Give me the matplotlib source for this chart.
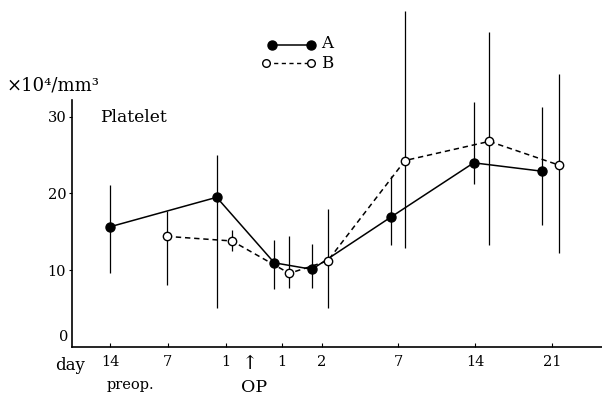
import matplotlib
matplotlib.use("Agg")
import matplotlib.pyplot as plt
from matplotlib.lines import Line2D
from matplotlib.transforms import blended_transform_factory

# x positions are on the chart's own (uneven) day scale
tick_pos = [11.0, 16.77, 22.57, 28.23, 32.17, 39.83, 47.5, 55.23]
tick_labels = ["14", "7", "1", "1", "2", "7", "14", "21"]
op_pos = 25.0

a_x = [11.0, 21.67, 27.43, 31.2, 39.07, 47.37, 54.23]
a_y = [15.65, 19.5, 10.95, 10.1, 16.9, 24.0, 22.9]
a_lo = [9.65, 5.0, 7.5, 7.65, 13.3, 21.3, 15.9]
a_hi = [21.1, 25.0, 13.9, 13.4, 22.3, 31.9, 31.3]

b_x = [16.67, 23.2, 28.93, 32.77, 40.5, 48.93, 55.9]
b_y = [14.4, 13.8, 9.57, 11.2, 24.3, 26.8, 23.7]
b_lo = [8.0, 12.5, 7.65, 5.0, 12.9, 13.3, 12.2]
b_hi = [17.7, 15.2, 14.5, 17.95, 43.8, 41.1, 35.6]

W, H = 602, 395
plt.rcParams["font.family"] = ["DejaVu Serif"]


def fx(px):
    return px / W


def fy(py):
    return 1 - py / H


fig = plt.figure(figsize=(W / 100, H / 100), dpi=100)
ax = fig.add_axes([fx(71.7), fy(346.7), fx(602 - 71.7), (346.7 - 100) / H])

a_err = [[y - lo for y, lo in zip(a_y, a_lo)], [hi - y for y, hi in zip(a_y, a_hi)]]
b_err = [[y - lo for y, lo in zip(b_y, b_lo)], [hi - y for y, hi in zip(b_y, b_hi)]]

eb = ax.errorbar(a_x, a_y, yerr=a_err, fmt="none", ecolor="black", elinewidth=0.9, capsize=0)
eb[2][0].set_clip_on(False)
eb = ax.errorbar(b_x, b_y, yerr=b_err, fmt="none", ecolor="black", elinewidth=0.9, capsize=0)
eb[2][0].set_clip_on(False)

ax.plot(a_x, a_y, color="black", lw=1.1, marker="o", ms=6.5, mfc="black", mec="black",
        zorder=3, clip_on=False)
ax.plot(b_x, b_y, color="black", lw=1.1, ls=(0, (3.5, 2.5)), marker="o", ms=6, mfc="white",
        mec="black", mew=1.0, zorder=4, clip_on=False)

ax.set_xlim(7.17, 60.2)
ax.set_ylim(0, 32.2)
for s in ["top", "right"]:
    ax.spines[s].set_visible(False)
for s in ["left", "bottom"]:
    ax.spines[s].set_linewidth(1.2)

ax.set_xticks(tick_pos, tick_labels)
ax.tick_params(axis="x", direction="in", length=3, width=0.8, pad=6, labelsize=10.5)
ax.set_yticks([10, 20, 30])
ax.tick_params(axis="y", direction="out", length=2.5, width=0.8, pad=1.5, labelsize=10.5)

tr = blended_transform_factory(ax.transData, fig.transFigure)
ax.text(op_pos, fy(364), "\u2191", transform=tr, ha="center", va="center", fontsize=14)
ax.text(op_pos + 0.4, fy(392), "OP", transform=tr, ha="center", va="baseline", fontsize=12.5)
fig.text(fx(130), fy(385), "preop.", ha="center", va="center", fontsize=10.5)
fig.text(fx(70), fy(365), "day", ha="center", va="center", fontsize=12)
fig.text(fx(68), fy(337), "0", ha="right", va="center", fontsize=10.5)

fig.text(fx(100), fy(118), "Platelet", ha="left", va="center", fontsize=12.3)
fig.text(fx(7), fy(86), "\u00d710\u2074/mm\u00b3", ha="left", va="center", fontsize=13)

# legend
fig.add_artist(Line2D([fx(271.7), fx(310.7)], [fy(45), fy(45)], color="black", lw=1.1,
                      marker="o", ms=6.5, mfc="black", mec="black"))
fig.add_artist(Line2D([fx(266), fx(310.7)], [fy(63), fy(63)], color="black", lw=1.0,
                      ls=(0, (3, 2.5)), marker="o", ms=5.5, mfc="white", mec="black"))
fig.text(fx(321), fy(44), "A", ha="left", va="center", fontsize=12)
fig.text(fx(321), fy(63.5), "B", ha="left", va="center", fontsize=12)

fig.savefig("out.png", dpi=100)
